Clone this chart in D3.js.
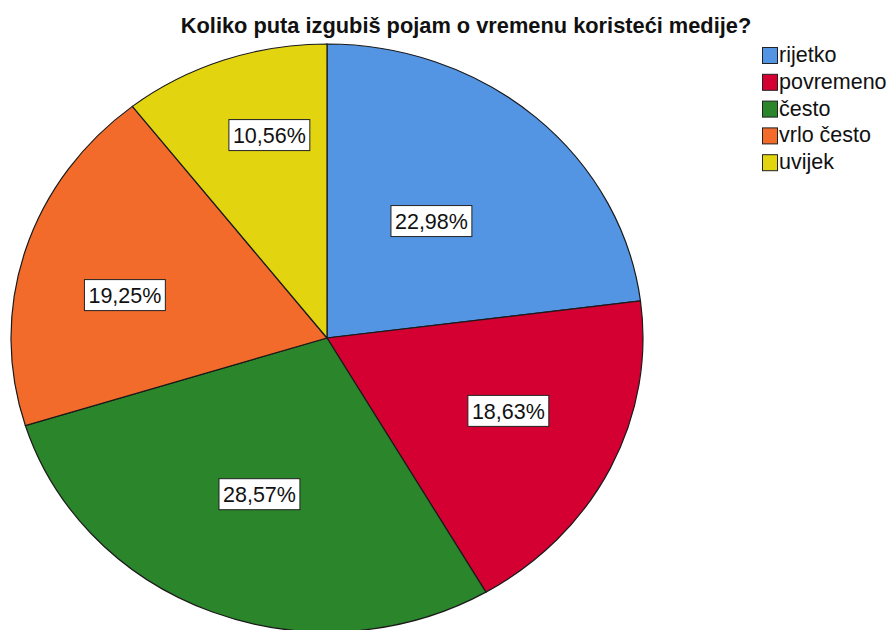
<!DOCTYPE html>
<html>
<head>
<meta charset="utf-8">
<script src="https://cdn.jsdelivr.net/npm/d3@7"></script>
<style>
  body { margin: 0; background: #fff; }
  text { font-family: "Liberation Sans", Arial, sans-serif; }
</style>
</head>
<body>
<svg id="chart" width="896" height="630"></svg>
<script>
const title = "Koliko puta izgubiš pojam o vremenu koristeći medije?";
const categories = ["rijetko", "povremeno", "često", "vrlo često", "uvijek"];
const values = [22.98, 18.63, 28.57, 19.25, 10.56];
const colors = ["#5395E3", "#D50032", "#2A852B", "#F26B2B", "#E2D510"];

var svg = d3.select("#chart");

// pie geometry (slightly squashed ellipse, like the original)
var cx = 327, cy = 338, rx = 316, ry = 294;
// label distance along the mid angle, separately for x and y
var labelKx = [0.50, 0.64, 0.59, 0.67, 0.56];
var labelKy = [0.53, 0.56, 0.57, 0.49, 0.73];

var pie = d3.pie().sort(null).value(function(d) { return d; });
var arcs = pie(values);
var arc = d3.arc().innerRadius(0).outerRadius(rx);

var g = svg.append("g").attr("transform", "translate(" + cx + "," + cy + ") scale(1," + (ry / rx) + ")");
g.selectAll("path").data(arcs).enter().append("path")
  .attr("d", arc)
  .attr("fill", function(d, i) { return colors[i]; })
  .attr("stroke", "#1a1a1a")
  .attr("stroke-width", 1.2)
  .attr("vector-effect", "non-scaling-stroke");

// value labels in white boxes
var fmt = function(v) { return v.toFixed(2).replace(".", ",") + "%"; };
var labels = svg.append("g");
arcs.forEach(function(d, i) {
  var a = (d.startAngle + d.endAngle) / 2;
  var x = cx + Math.sin(a) * rx * labelKx[i];
  var y = cy - Math.cos(a) * ry * labelKy[i];
  var lg = labels.append("g").attr("transform", "translate(" + x + "," + y + ")");
  var t = lg.append("text").attr("text-anchor", "middle").attr("dy", "0.36em")
    .style("font-size", "21.5px").attr("fill", "#111").text(fmt(values[i]));
  var w = t.node().getComputedTextLength();
  lg.insert("rect", "text").attr("x", -w / 2 - 4).attr("y", -15.5).attr("width", w + 8).attr("height", 31)
    .attr("fill", "#fff").attr("stroke", "#222").attr("stroke-width", 1);
});

// title
var tt = svg.append("text").attr("x", 466).attr("y", 33).attr("text-anchor", "middle")
  .style("font-weight", "bold").style("font-size", "18px").attr("fill", "#111").text(title);
var tw = tt.node().getComputedTextLength();
tt.style("font-size", (18 * 571 / tw) + "px");

// legend
var legend = svg.append("g").attr("transform", "translate(762,47)");
var items = legend.selectAll(".key").data(categories).enter().append("g")
  .attr("class", "key")
  .attr("transform", function(d, i) { return "translate(0," + (i * 26.8) + ")"; });
items.append("rect").attr("x", 0.5).attr("y", 0.5).attr("width", 15).attr("height", 16)
  .attr("fill", function(d, i) { return colors[i]; }).attr("stroke", "#222").attr("stroke-width", 1);
items.append("text").attr("x", 17).attr("y", 15).style("font-size", "21.5px").attr("fill", "#111")
  .text(function(d) { return d; });
</script>
</body>
</html>
